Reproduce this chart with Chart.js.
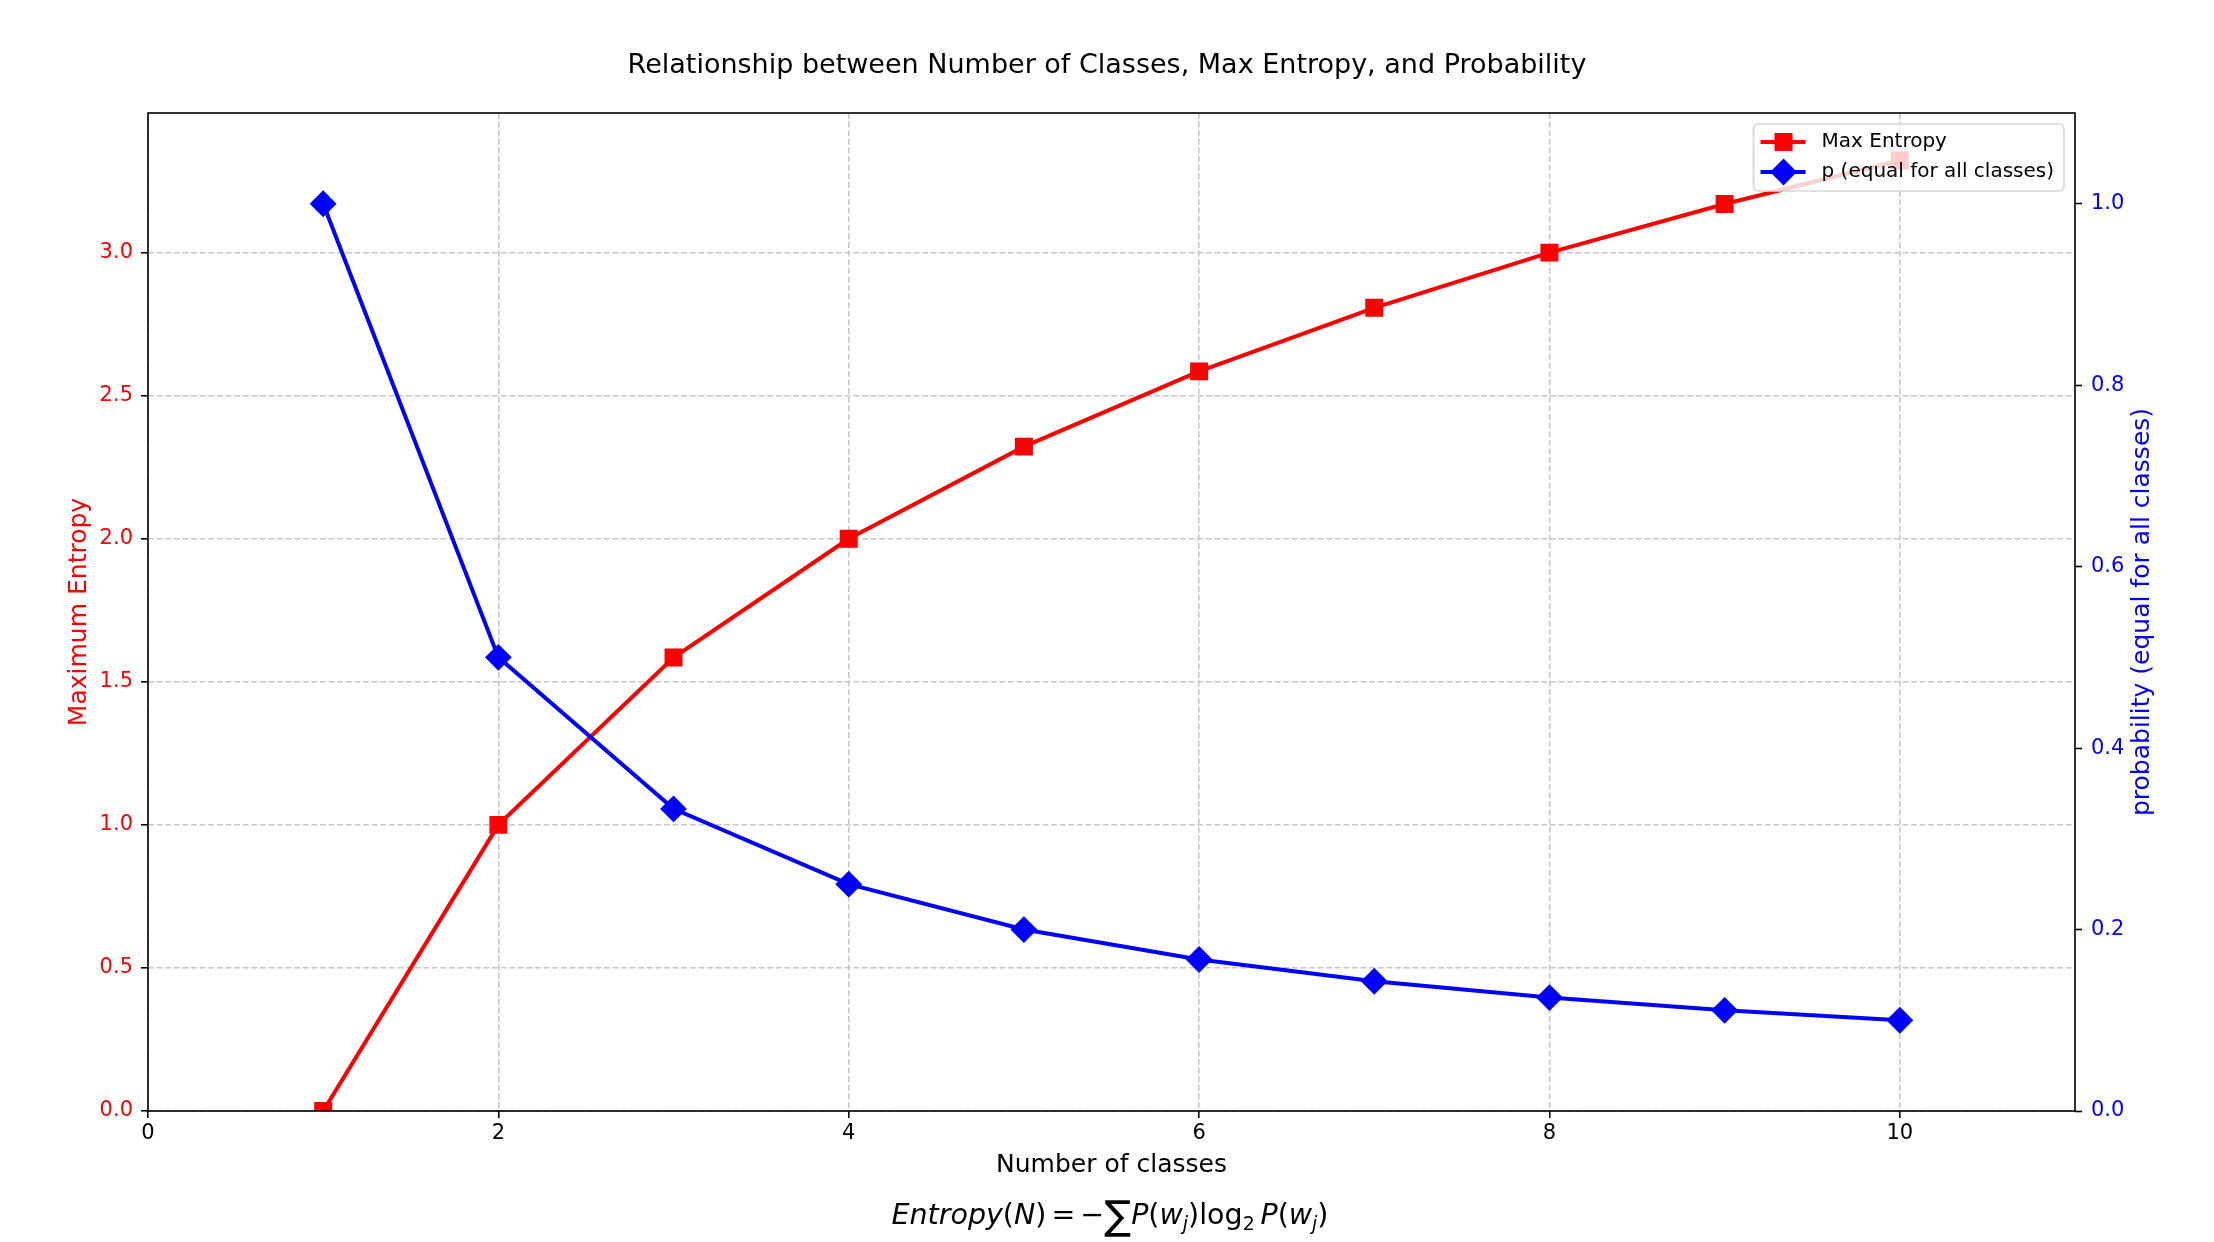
<!DOCTYPE html>
<html>
<head>
<meta charset="utf-8">
<script src="https://cdn.jsdelivr.net/npm/chart.js@4.4.1/dist/chart.umd.min.js"></script>
<style>
  body { margin: 0; background: #fff; }
  #wrap { position: relative; width: 2214px; height: 1242px; }
  #formula {
    position: absolute; left: 1110px; top: 1199px; transform: translateX(-50%);
    font-family: 'DejaVu Sans'; font-size: 28.5px; color: #000; white-space: nowrap; line-height: 32px;
  }
  #formula i { font-style: italic; }
  #formula sub { font-size: 19px; vertical-align: -6px; line-height: 0; }
  #formula .sum { font-size: 40px; vertical-align: -5px; line-height: 0; }
  #formula .op { padding: 0 5px; }
</style>
</head>
<body>
<div id="wrap">
  <canvas id="chart" width="2214" height="1242"></canvas>
  <div id="formula"><i>Entropy</i>(<i>N</i>)<span class="op">=</span>&minus;<span class="sum">&sum;</span><i>P</i>(<i>w<sub>j</sub></i>)log<sub>2</sub>&thinsp;<i>P</i>(<i>w<sub>j</sub></i>)</div>
</div>
<script>
// Data
const numClasses = [1, 2, 3, 4, 5, 6, 7, 8, 9, 10];
const maxEntropy = [0, 1.0, 1.585, 2.0, 2.322, 2.585, 2.807, 3.0, 3.17, 3.322];
const probability = [1.0, 0.5, 0.333, 0.25, 0.2, 0.167, 0.143, 0.125, 0.111, 0.1];
const seriesLabels = ['Max Entropy', 'p (equal for all classes)'];

Chart.defaults.font.family = 'DejaVu Sans';
Chart.defaults.font.size = 21;
Chart.defaults.color = '#000';

const RED = '#ff0000';
const BLUE = '#0000ff';
const gridColor = '#c8c8c8';

// Axes frame drawn over the lines, like matplotlib spines
const framePlugin = {
    id: 'frame',
    afterDatasetsDraw(chart) {
        const {ctx, chartArea: a} = chart;
        ctx.save();
        ctx.strokeStyle = '#000';
        ctx.lineWidth = 1.6;
        ctx.strokeRect(a.left, a.top, a.right - a.left, a.bottom - a.top);
        ctx.restore();
    }
};

// Right axis title (reads bottom to top) and in-plot legend
const overlayPlugin = {
    id: 'overlay',
    afterDraw(chart) {
        const {ctx, chartArea: a} = chart;
        ctx.save();
        ctx.font = '25px "DejaVu Sans"';
        ctx.fillStyle = BLUE;
        ctx.textAlign = 'center';
        ctx.textBaseline = 'middle';
        ctx.translate(2142, (a.top + a.bottom) / 2);
        ctx.rotate(-Math.PI / 2);
        ctx.fillText('probability (equal for all classes)', 0, 0);
        ctx.restore();

        // legend
        ctx.save();
        ctx.font = '20px "DejaVu Sans"';
        const textW = Math.max(...seriesLabels.map(t => ctx.measureText(t).width));
        const boxW = 68 + textW + 10;
        const boxH = 67;
        const bx = a.right - 11 - boxW;
        const by = a.top + 11;
        ctx.beginPath();
        ctx.roundRect(bx, by, boxW, boxH, 5);
        ctx.fillStyle = 'rgba(255,255,255,0.8)';
        ctx.fill();
        ctx.strokeStyle = '#d6d6d6';
        ctx.lineWidth = 1.6;
        ctx.stroke();
        chart.data.datasets.forEach((ds, i) => {
            const y = by + 18 + i * 30;
            ctx.strokeStyle = ds.borderColor;
            ctx.lineWidth = 4;
            ctx.beginPath();
            ctx.moveTo(bx + 7, y);
            ctx.lineTo(bx + 52, y);
            ctx.stroke();
            ctx.fillStyle = ds.pointBackgroundColor;
            ctx.strokeStyle = ds.pointBorderColor;
            ctx.lineWidth = 2;
            Chart.helpers.drawPoint(ctx, {pointStyle: ds.pointStyle, radius: ds.pointRadius, rotation: 0, borderWidth: 2}, bx + 30, y);
            ctx.fillStyle = '#000';
            ctx.textAlign = 'left';
            ctx.textBaseline = 'middle';
            ctx.fillText(ds.label, bx + 68, y);
        });
        ctx.restore();
    }
};

const ctx = document.getElementById('chart').getContext('2d');
const chart = new Chart(ctx, {
    type: 'line',
    data: {
        labels: numClasses,
        datasets: [{
            label: seriesLabels[0],
            data: numClasses.map((n, i) => ({x: n, y: maxEntropy[i]})),
            yAxisID: 'y',
            borderColor: RED,
            backgroundColor: RED,
            pointBackgroundColor: RED,
            pointBorderColor: RED,
            borderWidth: 4,
            pointStyle: 'rect',
            pointRadius: 11.3,
            pointBorderWidth: 2,
            tension: 0,
            clip: 0,
            order: 2
        }, {
            label: seriesLabels[1],
            data: numClasses.map((n, i) => ({x: n, y: probability[i]})),
            yAxisID: 'y1',
            borderColor: BLUE,
            backgroundColor: BLUE,
            pointBackgroundColor: BLUE,
            pointBorderColor: BLUE,
            borderWidth: 4,
            pointStyle: 'rectRot',
            pointRadius: 12,
            pointBorderWidth: 2,
            tension: 0,
            clip: 0,
            order: 1
        }]
    },
    options: {
        responsive: false,
        animation: false,
        devicePixelRatio: 1,
        layout: { padding: { left: 0, right: 0, top: 0, bottom: 51 } },
        plugins: {
            legend: { display: false },
            tooltip: { enabled: false },
            title: {
                display: true,
                text: 'Relationship between Number of Classes, Max Entropy, and Probability',
                font: { size: 27, weight: 'normal' },
                color: '#000',
                padding: { top: 49.5, bottom: 31.1 }
            }
        },
        scales: {
            x: {
                type: 'linear',
                position: 'bottom',
                min: 0,
                max: 11,
                afterFit(scale) { scale.height = 80; },
                ticks: { stepSize: 2, includeBounds: false, padding: 2.5, color: '#000', font: { size: 21 } },
                grid: { color: gridColor, lineWidth: 1.6, tickColor: '#000', tickLength: 7, tickWidth: 1.6 },
                border: { display: false, dash: [6, 2.6] },
                title: { display: true, text: 'Number of classes', color: '#000', font: { size: 25 }, padding: { top: 0, bottom: 11 } }
            },
            y: {
                type: 'linear',
                position: 'left',
                min: 0,
                max: 3.488,
                afterFit(scale) { scale.width = 148; },
                ticks: { stepSize: 0.5, includeBounds: false, padding: 8, color: RED, font: { size: 21 },
                         callback: v => v.toFixed(1) },
                grid: { color: gridColor, lineWidth: 1.6, tickColor: '#000', tickLength: 7, tickWidth: 1.6 },
                border: { display: false, dash: [6, 2.6] },
                title: { display: true, text: 'Maximum Entropy', color: RED, font: { size: 25 }, padding: { top: 64, bottom: 0 } }
            },
            y1: {
                type: 'linear',
                position: 'right',
                min: 0,
                max: 1.1,
                afterFit(scale) { scale.width = 139; },
                ticks: { stepSize: 0.2, includeBounds: false, padding: 9, color: BLUE, font: { size: 21 },
                         callback: v => v.toFixed(1) },
                grid: { drawOnChartArea: false, tickColor: '#000', tickLength: 7, tickWidth: 1.6 },
                border: { display: false }
            }
        }
    },
    plugins: [framePlugin, overlayPlugin]
});
</script>
</body>
</html>
